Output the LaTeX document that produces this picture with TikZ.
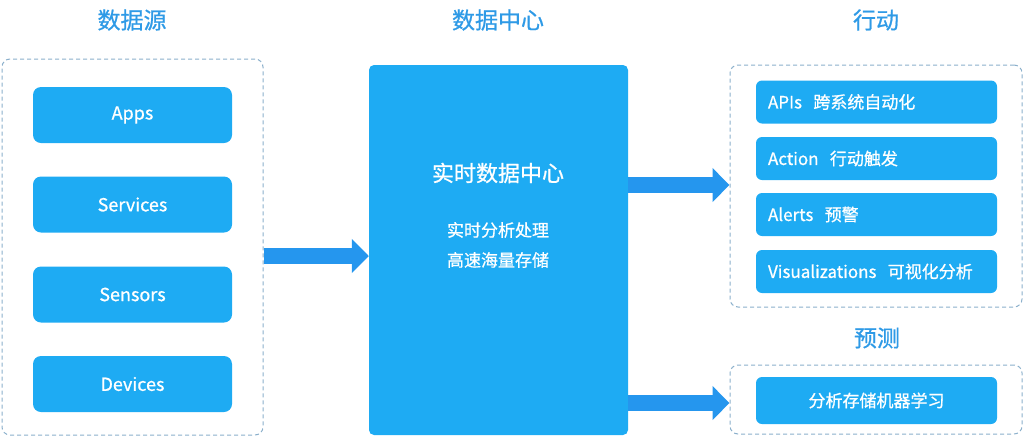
\documentclass[tikz,border=0pt]{standalone}
\usepackage{fontspec}
\setmainfont{Noto Sans CJK SC}[FakeBold=0.8]
\usetikzlibrary{arrows.meta}
\definecolor{boxblue}{HTML}{1EABF3}
\definecolor{arrowblue}{HTML}{2596EE}
\definecolor{titleblue}{HTML}{2E9AE6}
\definecolor{dashblue}{HTML}{8AAFCB}
\begin{document}
\begin{tikzpicture}[x=1pt,y=-1pt,
  srcbox/.style={fill=boxblue,rounded corners=8pt,minimum width=199pt,minimum height=56pt,inner sep=0pt,text=white,font=\fontsize{18}{20}\selectfont},
  actbox/.style={fill=boxblue,rounded corners=6pt,text width=217pt,inner xsep=12pt,inner ysep=0pt,minimum height=43pt,align=left,text=white,font=\fontsize{17}{20}\selectfont},
  group/.style={draw=dashblue,dash pattern=on 4pt off 3pt,line width=1pt,rounded corners=8pt,inner sep=0pt},
  title/.style={text=titleblue,font=\fontsize{23}{26}\selectfont},
  fat/.style={draw=arrowblue,line width=16pt,-{Triangle[width=33pt,length=17pt]}}]
\useasboundingbox (0,0) rectangle (1024,437);
\node[title] (srctitle) at (132,20) {数据源};
\node[title] (hubtitle) at (498,20) {数据中心};
\node[title] (acttitle) at (876,20) {行动};
\node[title] (predtitle) at (877,338) {预测};
\node[group,minimum width=261pt,minimum height=376pt] (src) at (132.5,247) {};
\node[srcbox] (apps) at (132.5,115) {Apps};
\node[srcbox] (services) at (132.5,204.5) {Services};
\node[srcbox] (sensors) at (132.5,294.5) {Sensors};
\node[srcbox] (devices) at (132.5,384) {Devices};
\node[fill=boxblue,rounded corners=5pt,minimum width=259pt,minimum height=370pt,inner sep=0pt] (hub) at (498.5,250) {};
\node[text=white,font=\fontsize{22}{26}\selectfont] (hubname) at (498,173) {实时数据中心};
\node[text=white,font=\fontsize{17}{20}\selectfont] (hubline1) at (498,230) {实时分析处理};
\node[text=white,font=\fontsize{17}{20}\selectfont] (hubline2) at (498,260) {高速海量存储};
\node[group,minimum width=292pt,minimum height=242pt] (act) at (876,186) {};
\node[actbox] (apis) at (876.5,102) {APIs\ \ 跨系统自动化};
\node[actbox] (action) at (876.5,158.5) {Action\ \ 行动触发};
\node[actbox] (alerts) at (876.5,214.5) {Alerts\ \ 预警};
\node[actbox] (visual) at (876.5,271.5) {Visualizations\ \ 可视化分析};
\node[group,minimum width=292pt,minimum height=69pt] (pred) at (876,399.5) {};
\node[actbox,align=center,minimum height=47pt] (learn) at (876.5,400.5) {分析存储机器学习};
\draw[fat] (src.east |- 0,256) -- (hub.west |- 0,256);
\draw[fat] (hub.east |- 0,185) -- (act.west |- 0,185);
\draw[fat] (hub.east |- 0,403) -- (pred.west |- 0,403);
\end{tikzpicture}
\end{document}
